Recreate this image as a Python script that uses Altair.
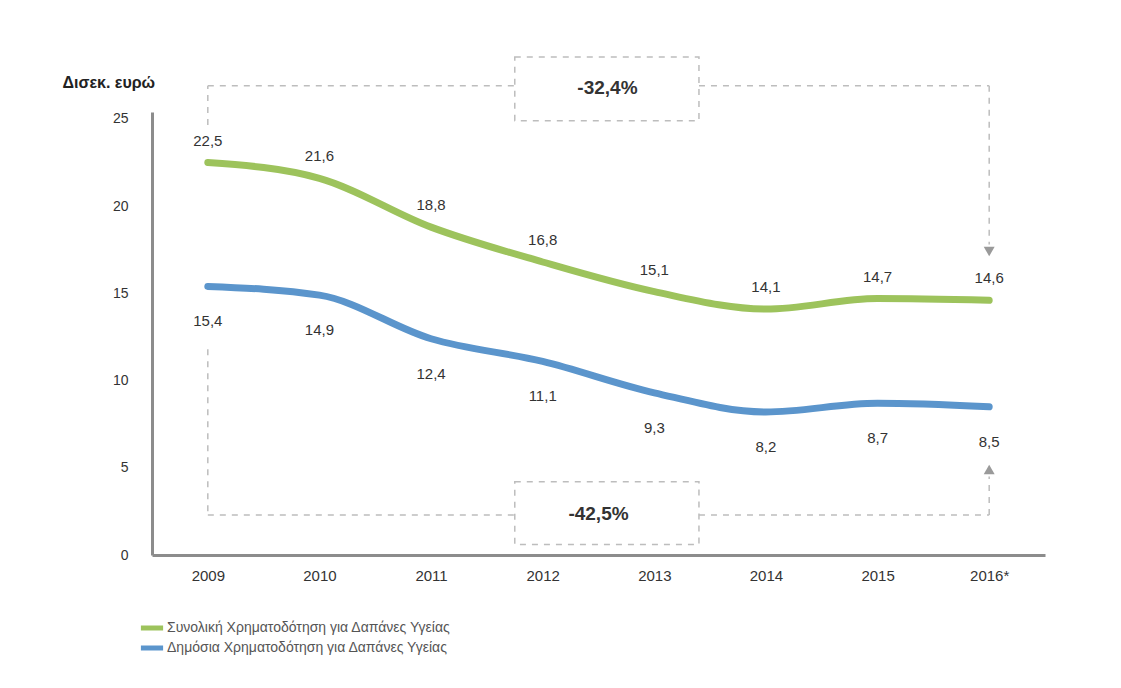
import json
import altair as alt
import pandas as pd

# ---- data ----
years = ["2009", "2010", "2011", "2012", "2013", "2014", "2015", "2016*"]
total = [22.5, 21.6, 18.8, 16.8, 15.1, 14.1, 14.7, 14.6]
public = [15.4, 14.9, 12.4, 11.1, 9.3, 8.2, 8.7, 8.5]
series_names = [
    "Συνολική Χρηματοδότηση για Δαπάνες Υγείας",
    "Δημόσια Χρηματοδότηση για Δαπάνες Υγείας",
]
series_colors = ["#9dc35c", "#5b95cc"]
y_ticks = [0, 5, 10, 15, 20, 25]
change_labels = ["-32,4%", "-42,5%"]

FONT = "Liberation Sans"

rows = []
for i, y in enumerate(years):
    rows.append({"i": i, "v": total[i], "s": series_names[0],
                 "lab": f"{total[i]:.1f}".replace(".", ",")})
    rows.append({"i": i, "v": public[i], "s": series_names[1],
                 "lab": f"{public[i]:.1f}".replace(".", ",")})
df = pd.DataFrame(rows)

xs = alt.Scale(domain=[-0.5, 7.5], nice=False, zero=False)
ys = alt.Scale(domain=[0, 25.4], nice=False, zero=False)

label_expr = json.dumps(years) + "[datum.value]"

x_axis = alt.Axis(values=list(range(len(years))), labelExpr=label_expr,
                  title=None, ticks=False, grid=False, domainColor="#8c8c8c",
                  domainWidth=3, labelPadding=13, labelFontSize=15,
                  labelColor="#333333", labelFont=FONT)
y_axis = alt.Axis(values=y_ticks, title="Δισεκ. ευρώ", titleAngle=0,
                  titleX=-90, titleY=-30, titleAlign="left",
                  titleBaseline="middle", titleFontSize=16,
                  titleFontWeight="bold", titleColor="#222222",
                  titleFont=FONT, ticks=False, grid=False,
                  domainColor="#8c8c8c", domainWidth=3, labelPadding=24,
                  labelFontSize=14, labelColor="#333333", labelFont=FONT)

color = alt.Color("s:N", scale=alt.Scale(domain=series_names, range=series_colors),
                  legend=alt.Legend(title=None, orient="none", legendX=-7,
                                    legendY=509,
                                    symbolType="M-3.7,0H3.7",
                                    symbolSize=36, symbolStrokeWidth=5,
                                    labelFontSize=14, labelColor="#555555",
                                    labelFont=FONT, rowPadding=0,
                                    labelOffset=8, labelLimit=0))

lines = alt.Chart(df).mark_line(strokeWidth=7, interpolate="monotone",
                                strokeCap="round").encode(
    x=alt.X("i:Q", scale=xs, axis=x_axis),
    y=alt.Y("v:Q", scale=ys, axis=y_axis),
    color=color,
)

lab_total = alt.Chart(df[df.s == series_names[0]]).mark_text(
    dy=-22, fontSize=15, color="#333333", font=FONT).encode(
    x=alt.X("i:Q", scale=xs), y=alt.Y("v:Q", scale=ys), text="lab:N")
lab_public = alt.Chart(df[df.s == series_names[1]]).mark_text(
    dy=35, fontSize=15, color="#333333", font=FONT).encode(
    x=alt.X("i:Q", scale=xs), y=alt.Y("v:Q", scale=ys), text="lab:N")

# ---- bracket annotations (dashed) ----
segs = pd.DataFrame([
    # top bracket
    {"x": 0, "x2": 0, "y": 24.65, "y2": 26.9},
    {"x": 0, "x2": 2.75, "y": 26.9, "y2": 26.9},
    {"x": 4.40, "x2": 7, "y": 26.9, "y2": 26.9},
    {"x": 7, "x2": 7, "y": 26.9, "y2": 17.8},
    # bottom bracket
    {"x": 0, "x2": 0, "y": 11.8, "y2": 2.3},
    {"x": 0, "x2": 2.75, "y": 2.3, "y2": 2.3},
    {"x": 4.40, "x2": 7, "y": 2.3, "y2": 2.3},
    {"x": 7, "x2": 7, "y": 2.3, "y2": 4.5},
])
rules = alt.Chart(segs).mark_rule(color="#bdbdbd", strokeWidth=1.5,
                                  strokeDash=[6, 6]).encode(
    x=alt.X("x:Q", scale=xs), x2="x2:Q",
    y=alt.Y("y:Q", scale=ys), y2="y2:Q")

boxes_df = pd.DataFrame([
    {"x": 2.75, "x2": 4.40, "y": 24.9, "y2": 28.55, "t": change_labels[0], "ym": 26.75, "xm": 3.58},
    {"x": 2.75, "x2": 4.40, "y": 0.6, "y2": 4.2, "t": change_labels[1], "ym": 2.35, "xm": 3.50},
])
boxes = alt.Chart(boxes_df).mark_rect(fill="white", stroke="#bdbdbd",
                                      strokeWidth=1.5, strokeDash=[6, 6]).encode(
    x=alt.X("x:Q", scale=xs), x2="x2:Q",
    y=alt.Y("y:Q", scale=ys), y2="y2:Q")
box_txt = alt.Chart(boxes_df).mark_text(fontSize=19, fontWeight="bold",
                                        color="#333333", font=FONT).encode(
    x=alt.X("xm:Q", scale=xs), y=alt.Y("ym:Q", scale=ys), text="t:N")

arrows_df = pd.DataFrame([
    {"x": 7, "y": 17.4, "shape": "triangle-down"},
    {"x": 7, "y": 4.9, "shape": "triangle-up"},
])
arrows = alt.Chart(arrows_df).mark_point(filled=True, color="#9a9a9a",
                                         size=120, opacity=1).encode(
    x=alt.X("x:Q", scale=xs), y=alt.Y("y:Q", scale=ys),
    shape=alt.Shape("shape:N", scale=None, legend=None))

chart = alt.layer(rules, boxes, box_txt, lines, lab_total, lab_public, arrows).properties(
    width=893, height=443,
    autosize=alt.AutoSizeParams(type="none"),
    padding={"left": 144, "top": 104, "right": 68, "bottom": 125},
    background="white",
).configure_view(stroke=None)

chart.save("out.html", embed_options={"renderer": "svg", "actions": False})
